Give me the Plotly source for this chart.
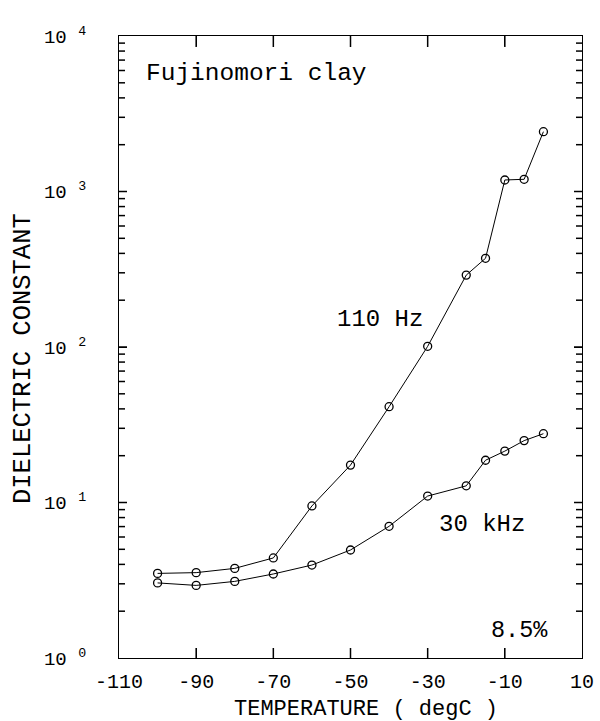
import math
import plotly.graph_objects as go

temps = [-100, -90, -80, -70, -60, -50, -40, -30, -20, -15, -10, -5, 0]
eps_110hz = [3.5, 3.54, 3.77, 4.4, 9.5, 17.4, 41.3, 101, 290, 372, 1186, 1198, 2425]
eps_30khz = [3.04, 2.93, 3.11, 3.47, 3.96, 4.95, 7.03, 11.0, 12.8, 18.7, 21.4, 25.0, 27.7]

x_range = [-110, 10]
y_range_log = [0, 4]
x_tickvals = [-110, -90, -70, -50, -30, -10, 10]
x_ticktext = ["-110", "-90", "-70", "-50", "-30", "-10", "10"]
y_tickvals = [1, 10, 100, 1000, 10000]
y_ticktext = ["10 <sup>0 </sup>", "10 <sup>1 </sup>", "10 <sup>2 </sup>", "10 <sup>3 </sup>", "10 <sup>4 </sup>"]
y_minorvals = [m * d for d in y_tickvals[:-1] for m in range(2, 10)]

FONT = "Liberation Mono, DejaVu Sans Mono, monospace"
W, H = 600, 721
ML, MR, MT, MB = 119, 18, 36, 63
PW, PH = W - ML - MR, H - MT - MB

fig = go.Figure()
for ys in (eps_110hz, eps_30khz):
    fig.add_trace(go.Scatter(
        x=temps, y=ys, mode="lines+markers",
        line=dict(color="black", width=1),
        marker=dict(symbol="circle-open", size=8, color="black", line=dict(width=1.3, color="black")),
        showlegend=False,
    ))


def yfrac(v):
    return (math.log10(v) - y_range_log[0]) / (y_range_log[1] - y_range_log[0])


tick_line = dict(color="black", width=1.5)
shapes = []
for xv in x_tickvals[1:-1]:
    shapes.append(dict(type="line", xref="x", yref="paper", x0=xv, x1=xv,
                       y0=0, y1=10 / PH, line=tick_line))
    shapes.append(dict(type="line", xref="x", yref="paper", x0=xv, x1=xv,
                       y0=1, y1=1 - 11 / PH, line=tick_line))
for yv, ln in [(v, 8) for v in y_tickvals[1:-1]] + [(v, 6) for v in y_minorvals]:
    f = yfrac(yv)
    shapes.append(dict(type="line", xref="paper", yref="paper", x0=0, x1=ln / PW,
                       y0=f, y1=f, line=tick_line))
    shapes.append(dict(type="line", xref="paper", yref="paper", x0=1, x1=1 - ln / PW,
                       y0=f, y1=f, line=tick_line))

fig.update_layout(
    template="none",
    width=W, height=H,
    margin=dict(l=ML, r=MR, t=MT, b=MB, autoexpand=False),
    paper_bgcolor="white", plot_bgcolor="white",
    font=dict(family=FONT, color="black", size=20),
    xaxis=dict(
        range=x_range, tickmode="array", tickvals=x_tickvals, ticktext=x_ticktext,
        ticks="inside", ticklen=10, tickwidth=1, tickcolor="black",
        showline=True, linecolor="black", linewidth=1.2, mirror="ticks",
        showgrid=False, zeroline=False, automargin=False,
        tickfont=dict(size=20), ticklabelstandoff=5,
    ),
    yaxis=dict(
        type="log", range=y_range_log, tickmode="array", tickvals=y_tickvals, ticktext=y_ticktext,
        ticks="inside", ticklen=8, tickwidth=1, tickcolor="black",
        showline=True, linecolor="black", linewidth=1.2, mirror="ticks",
        showgrid=False, zeroline=False, automargin=False,
        tickfont=dict(size=19), ticklabelstandoff=20,
    ),
    shapes=shapes,
    annotations=[
        dict(x=-46, y=0, xref="x", yref="paper", yshift=-51,
             text="TEMPERATURE ( degC )", showarrow=False,
             xanchor="center", yanchor="middle", font=dict(size=22)),
        dict(x=0.0, y=0.5, xref="paper", yref="paper", xshift=-96, yshift=-12,
             text="DIELECTRIC CONSTANT", showarrow=False, textangle=-90,
             xanchor="center", yanchor="middle", font=dict(size=25.5)),
        dict(x=-103.6, y=3.76, xref="x", yref="y", text="Fujinomori clay", showarrow=False,
             xanchor="left", yanchor="middle", font=dict(size=24.5)),
        dict(x=-53.9, y=2.18, xref="x", yref="y", text="110 Hz", showarrow=False,
             xanchor="left", yanchor="middle", font=dict(size=24)),
        dict(x=-27.6, y=0.86, xref="x", yref="y", text="30 kHz", showarrow=False,
             xanchor="left", yanchor="middle", font=dict(size=24)),
        dict(x=-14.0, y=0.18, xref="x", yref="y", text="8.5%", showarrow=False,
             xanchor="left", yanchor="middle", font=dict(size=23.5)),
    ],
)

fig.write_html("out.html")
